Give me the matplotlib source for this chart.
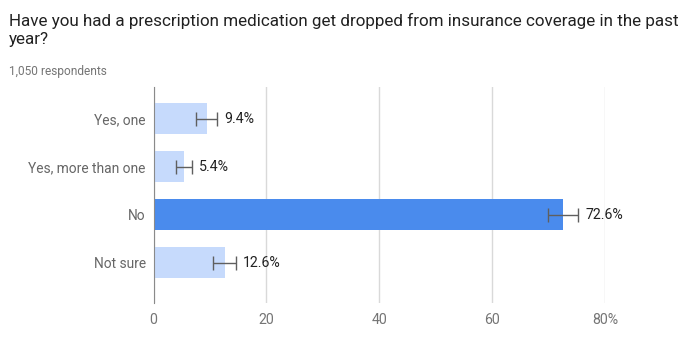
import matplotlib.pyplot as plt
import numpy as np

plt.rcParams['font.family'] = ['Roboto', 'DejaVu Sans']

categories = ['Yes, one', 'Yes, more than one', 'No', 'Not sure']
values = [9.4, 5.4, 72.6, 12.6]
errors = [1.8, 1.4, 2.7, 2.0]
labels = ['9.4%', '5.4%', '72.6%', '12.6%']
colors = ['#c6dafc', '#c6dafc', '#4a8bed', '#c6dafc']
xticks = [0, 20, 40, 60, 80]
xticklabels = ['0', '20', '40', '60', '80%']

fig = plt.figure(figsize=(6.98, 3.59), dpi=100)
ax = fig.add_axes([153.5 / 698, (359 - 303) / 359, (605 - 153.5) / 698, 216 / 359])

y = np.arange(len(categories))
ax.barh(y, values, height=0.65, color=colors, zorder=2)
ax.errorbar(values, y, xerr=errors, fmt='none', ecolor='#5f5f5f',
            elinewidth=1, capsize=5, capthick=1, zorder=3)
for yi, v, e, lab in zip(y, values, errors, labels):
    ax.text(v + e + 1.3, yi, lab, va='center', ha='left', fontsize=10.2,
            color='#222222', clip_on=False)

ax.set_xlim(0, 80)
ax.set_ylim(3.84, -0.656)
ax.set_yticks(y)
ax.set_yticklabels(categories, fontsize=9.9, color='#666666')
ax.set_xticks(xticks)
ax.set_xticklabels(xticklabels, fontsize=10.2, color='#757575')
ax.tick_params(axis='both', length=0)
ax.tick_params(axis='y', pad=5.5)
ax.tick_params(axis='x', pad=7)
ax.grid(axis='x', color='#d9d9d9', linewidth=1, zorder=0)
for s in ['top', 'right', 'bottom']:
    ax.spines[s].set_visible(False)
ax.spines['left'].set_color('#8a8a8a')
ax.spines['left'].set_zorder(4)

fig.text(9 / 698, 1 - 13 / 359, 'Have you had a prescription medication get dropped from insurance coverage in the past\nyear?',
         fontsize=12.25, color='#212121', va='top', ha='left', linespacing=1.25)
fig.text(9 / 698, 1 - 75 / 359, '1,050 respondents', fontsize=8.6, color='#757575',
         va='baseline', ha='left')

fig.savefig('out.png', dpi=100)
